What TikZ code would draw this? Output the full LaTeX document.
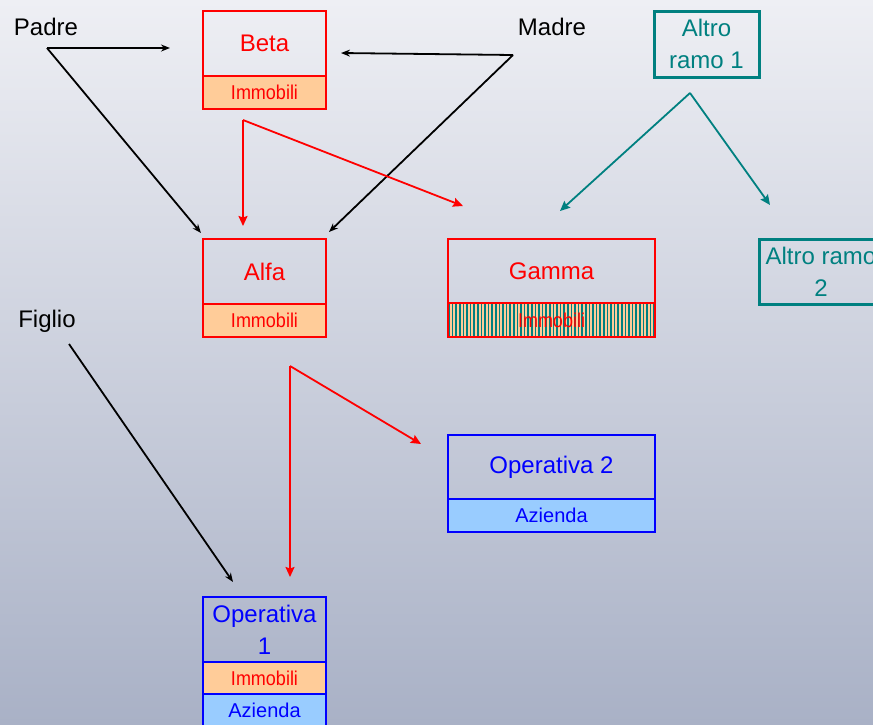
\documentclass[tikz,border=0pt]{standalone}
\usepackage{fontspec}
\setmainfont{Liberation Sans}
\usetikzlibrary{arrows.meta}

\definecolor{peach}{HTML}{FFCC99}
\definecolor{skyfill}{HTML}{99CCFF}
\definecolor{tealc}{HTML}{008080}
\definecolor{bgtop}{HTML}{EEEFF4}
\definecolor{bgbot}{HTML}{A9B1C6}
\definecolor{redc}{HTML}{FF0000}
\definecolor{bluec}{HTML}{0000FF}

\begin{document}
\begin{tikzpicture}[x=1pt,y=-1pt,
  big/.style={font=\fontsize{24}{32}\selectfont},
  small/.style={font=\fontsize{20}{24}\selectfont},
  lbl/.style={big, inner sep=0pt, text=black},
  part/.style={draw, line width=2.5pt, inner sep=0pt, align=center, minimum width=123pt},
  redpart/.style={part, draw=redc, text=redc, big},
  immo/.style={part, draw=redc, fill=peach, text=redc, small},
  bluepart/.style={part, draw=bluec, text=bluec, big},
  azi/.style={part, draw=bluec, fill=skyfill, text=bluec, small},
  tealpart/.style={part, draw=tealc, text=tealc, big, line width=3pt},
  stripes/.style={path picture={
      \foreach \i in {1,4.6,...,212}
        \draw[tealc, line width=1.6pt]
          ([xshift=\i pt]path picture bounding box.south west) --
          ([xshift=\i pt]path picture bounding box.north west);}},
  blackarrow/.style={draw=black, line width=1.8pt, -{Stealth[length=9pt,width=7pt]}},
  redarrow/.style={draw=redc, line width=1.8pt, -{Stealth[length=10pt,width=9pt,inset=1.5pt]}},
  tealarrow/.style={draw=tealc, line width=1.8pt, -{Stealth[length=10pt,width=9pt,inset=1.5pt]}}
]
% background with vertical gradient
\shade[top color=bgtop, bottom color=bgbot] (0,0) rectangle (873,724);
\useasboundingbox (0,0) rectangle (873,724);
\clip (0,0) rectangle (873,724);

\newcommand{\immtext}{\scalebox{0.9}[1]{Immobili}}

% family labels
\node[lbl] (padre) at (46,27) {Padre};
\node[lbl] (madre) at (552,27) {Madre};
\node[lbl] (figlio) at (47,321) {Figlio};

% Beta
\node[redpart, minimum height=65pt] (beta) at (264.5,43.5) {Beta};
\node[immo, minimum height=33pt] (betaimm) at (264.5,92.5) {\immtext};

% Alfa
\node[redpart, minimum height=65pt] (alfa) at (264.5,271.5) {Alfa};
\node[immo, minimum height=33pt] (alfaimm) at (264.5,320.5) {\immtext};

% Gamma
\node[redpart, minimum width=207pt, minimum height=64pt] (gamma) at (551.5,271) {Gamma};
\node[immo, fill=peach, stripes, minimum width=207pt, minimum height=34pt] (gammaimm) at (551.5,320) {\immtext};

% Operativa 2
\node[bluepart, minimum width=207pt, minimum height=64pt] (op2) at (551.5,467) {Operativa 2};
\node[azi, minimum width=207pt, minimum height=33pt] (op2az) at (551.5,515.5) {Azienda};

% Operativa 1
\node[bluepart, minimum height=65pt, text width=110pt] (op1) at (264.5,629.5) {Operativa\\1};
\node[immo, draw=bluec, minimum height=32pt] (op1imm) at (264.5,678) {\immtext};
\node[azi, minimum height=33pt] (op1az) at (264.5,710.5) {Azienda};

% other branches
\node[tealpart, minimum width=105pt, minimum height=66pt] (altro1) at (706.5,44) {Altro\\ramo 1};
\node[tealpart, minimum width=124pt, minimum height=65pt] (altro2) at (821,271.5) {Altro ramo\\2};

% connector end points
\coordinate (pj) at (47,48);
\coordinate (pa) at (170,48);
\coordinate (pb) at (201,233);
\coordinate (mj) at (513,55);
\coordinate (ma) at (341,53);
\coordinate (mb) at (329,232);
\coordinate (fj) at (69,344);
\coordinate (fa) at (233,582);
\coordinate (r1) at (243,120);
\coordinate (r1a) at (243,226);
\coordinate (r1b) at (463,206);
\coordinate (r2) at (290,366);
\coordinate (r2a) at (290,577);
\coordinate (r2b) at (421,444);
\coordinate (tj) at (690,93);
\coordinate (ta) at (560,211);
\coordinate (tb) at (770,205);

% parents
\draw[blackarrow] (pj) -- (pa);
\draw[blackarrow] (pj) -- (pb);
\draw[blackarrow] (mj) -- (ma);
\draw[blackarrow] (mj) -- (mb);
\draw[blackarrow] (fj) -- (fa);

% holdings
\draw[redarrow] (r1) -- (r1a);
\draw[redarrow] (r1) -- (r1b);
\draw[redarrow] (r2) -- (r2a);
\draw[redarrow] (r2) -- (r2b);

% other branch split
\draw[tealarrow] (tj) -- (ta);
\draw[tealarrow] (tj) -- (tb);
\end{tikzpicture}
\end{document}
